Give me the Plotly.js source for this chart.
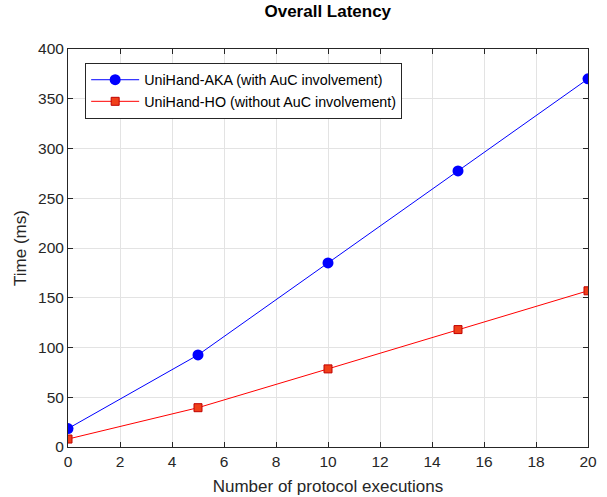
<!DOCTYPE html>
<html><head><meta charset="utf-8">
<script src="https://cdn.plot.ly/plotly-3.0.1.min.js"></script>
<style>html,body{margin:0;padding:0;background:#fff}#chart{width:607px;height:497px}</style>
</head><body><div id="chart"></div>
<script>
var executions = [0, 5, 10, 15, 20];
var akaTime = [18.5, 92.5, 185, 277.5, 370];
var hoTime = [8, 39.5, 78.5, 118, 157];
var akaName = 'UniHand-AKA (with AuC involvement)';
var hoName = 'UniHand-HO (without AuC involvement)';
var xTicks = [0, 2, 4, 6, 8, 10, 12, 14, 16, 18, 20];
var yTicks = [0, 50, 100, 150, 200, 250, 300, 350, 400];

var font = 'Liberation Sans, Arial, sans-serif';
var traces = [
  {x: executions, y: akaTime, name: akaName, mode: 'lines+markers', type: 'scatter',
   line: {color: '#0000ff', width: 1}, marker: {symbol: 'circle', size: 11, color: '#0000ff'}},
  {x: executions, y: hoTime, name: hoName, mode: 'lines+markers', type: 'scatter',
   line: {color: '#ff0000', width: 1}, marker: {symbol: 'square', size: 8, color: '#f0401a', line: {color: '#c00000', width: 1}}}
];
var axisCommon = {
  showline: true, mirror: 'ticks', linecolor: '#262626', linewidth: 1,
  ticks: 'inside', ticklen: 5, tickcolor: '#262626',
  showgrid: true, gridcolor: '#e3e3e3', gridwidth: 1, zeroline: false,
  tickfont: {family: font, size: 15.5, color: '#262626'}
};
var layout = {
  width: 607, height: 497,
  margin: {l: 68, r: 19, t: 49, b: 50},
  paper_bgcolor: '#fff', plot_bgcolor: '#fff',
  title: {text: '<b>Overall Latency</b>', font: {family: font, size: 17, color: '#000'}, x: 0.54, xanchor: 'center', y: 0.977, yanchor: 'middle'},
  xaxis: Object.assign({}, axisCommon, {range: [0, 20], tickvals: xTicks, ticktext: xTicks.map(String),
    title: {text: 'Number of protocol executions', font: {family: font, size: 17, color: '#262626'}, standoff: 11}}),
  yaxis: Object.assign({}, axisCommon, {range: [0, 400], tickvals: yTicks, ticktext: yTicks.map(String),
    title: {text: 'Time (ms)', font: {family: font, size: 17, color: '#262626'}, standoff: 7}}),
  showlegend: true,
  legend: {x: 0.033, y: 0.965, xanchor: 'left', yanchor: 'top', bgcolor: '#fff', bordercolor: '#262626', borderwidth: 1,
    font: {family: font, size: 14.3, color: '#000'}, tracegroupgap: 0, itemwidth: 48}
};
Plotly.newPlot('chart', traces, layout, {displayModeBar: false, staticPlot: true});
</script></body></html>
